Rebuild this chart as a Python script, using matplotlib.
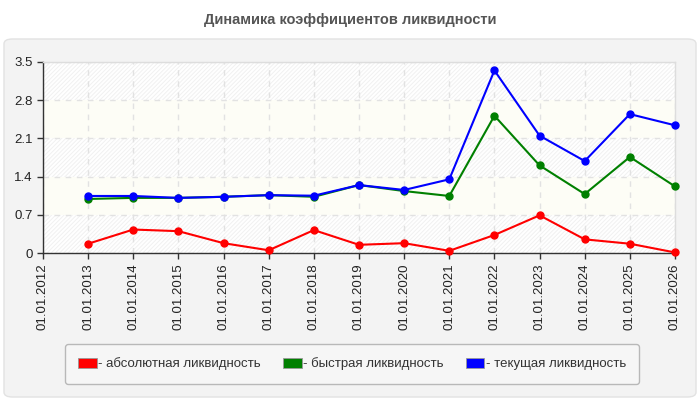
import matplotlib
matplotlib.use("Agg")
import matplotlib.pyplot as plt
from matplotlib.patches import FancyBboxPatch, Patch

plt.rcParams['font.family'] = ['Liberation Sans', 'DejaVu Sans']
plt.rcParams['hatch.linewidth'] = 0.7

dates = ["01.01.2012", "01.01.2013", "01.01.2014", "01.01.2015", "01.01.2016",
         "01.01.2017", "01.01.2018", "01.01.2019", "01.01.2020", "01.01.2021",
         "01.01.2022", "01.01.2023", "01.01.2024", "01.01.2025", "01.01.2026"]
absolute = [None, 0.17, 0.43, 0.40, 0.18, 0.05, 0.42, 0.15, 0.18, 0.04, 0.33, 0.69, 0.25, 0.17, 0.01]
quick = [None, 0.99, 1.01, 1.01, 1.03, 1.06, 1.03, 1.245, 1.135, 1.045, 2.515, 1.605, 1.08, 1.76, 1.22]
current = [None, 1.045, 1.045, 1.01, 1.03, 1.06, 1.05, 1.245, 1.155, 1.35, 3.345, 2.15, 1.685, 2.545, 2.34]
yticks = [0, 0.7, 1.4, 2.1, 2.8, 3.5]
ytick_labels = ["0", "0.7", "1.4", "2.1", "2.8", "3.5"]
labels = ["- абсолютная ликвидность", "- быстрая ликвидность", "- текущая ликвидность"]
colors = ["#ff0000", "#008000", "#0000ff"]
title = "Динамика коэффициентов ликвидности"

fig = plt.figure(figsize=(7, 4), dpi=100)
fig.patch.set_facecolor("white")

# outer panel
panel = FancyBboxPatch((4/700, 3/400), 692/700, 358/400,
                       boxstyle="round,pad=0,rounding_size=0.012",
                       transform=fig.transFigure, facecolor="#f3f3f3",
                       edgecolor="#e2e2e2", linewidth=1.0, zorder=-10)
fig.patches.append(panel)

fig.text(0.5, 1 - 20/400, title, ha="center", va="center", fontsize=10.5,
         fontweight="bold", color="#555555")

ax = fig.add_axes([43/700, 1 - 253/400, (675-43)/700, (253-62)/400], zorder=2)
ax.set_facecolor("white")

# background bands
for i in range(len(yticks) - 1):
    lo, hi = yticks[i], yticks[i+1]
    if i % 2 == 0:
        ax.axhspan(lo, hi, facecolor="white", edgecolor="#f1f1f1", hatch="////////",
                   linewidth=0, zorder=0)
    else:
        ax.axhspan(lo, hi, facecolor="#fdfdf6", edgecolor="none", linewidth=0, zorder=0)

x = list(range(len(dates)))
series = [absolute, quick, current]
for vals, c in zip(series, colors):
    xs = [xi for xi, v in zip(x, vals) if v is not None]
    ys = [v for v in vals if v is not None]
    ax.plot(xs, ys, color=c, linewidth=1.5, marker="o", markersize=5, zorder=3,
            clip_on=False)

ax.set_xlim(0, len(dates) - 1)
ax.set_ylim(0, 3.5)
ax.set_yticks(yticks)
ax.set_yticklabels(ytick_labels)
ax.set_xticks(x)
ax.set_xticklabels(dates, rotation=90)
ax.tick_params(axis="both", labelsize=9.5, colors="#333333", length=4, width=1,
               direction="out", labelcolor="#222222")
ax.grid(True, color="#e2e2e2", linestyle=(0, (4, 4)), linewidth=1, zorder=1)
ax.set_axisbelow(True)
for s in ["top", "right"]:
    ax.spines[s].set_color("#dddddd")
    ax.spines[s].set_linewidth(1)
for s in ["left", "bottom"]:
    ax.spines[s].set_color("#333333")
    ax.spines[s].set_linewidth(1)

handles = [Patch(facecolor=c, edgecolor="#999999", linewidth=0.6) for c in colors]
leg = fig.legend(handles, labels, loc="center", ncol=3,
                 bbox_to_anchor=(352/700, 1 - 364/400), fontsize=9.5,
                 frameon=True, fancybox=True, handlelength=1.4, handleheight=0.8,
                 handletextpad=0.1, columnspacing=1.7, borderpad=1.0,
                 labelcolor="#333333")
leg.get_frame().set_facecolor("#f8f8f8")
leg.get_frame().set_edgecolor("#aaaaaa")
leg.get_frame().set_linewidth(1)

fig.savefig("out.png", dpi=100, facecolor=fig.get_facecolor())
